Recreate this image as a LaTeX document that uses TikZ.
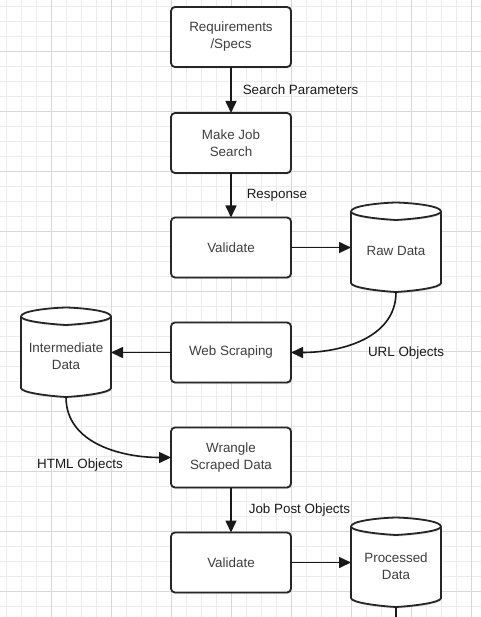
\documentclass[tikz,border=0pt]{standalone}
\usepackage{fontspec}
\setmainfont{Liberation Sans}
\usetikzlibrary{positioning,arrows.meta,shadows}

\definecolor{gridminor}{RGB}{236,236,236}
\definecolor{gridmajor}{RGB}{216,216,216}
\definecolor{boxtext}{RGB}{62,62,62}
\newcommand\chartfont{\fontsize{13.4}{17}\selectfont}

\pgfdeclarelayer{grid}
\pgfdeclarelayer{shapes}
\pgfsetlayers{grid,shapes,main}

\tikzset{
  stepbox/.style={draw=black!85, line width=1.8pt, rounded corners=4pt, fill=white,
    minimum width=120pt, minimum height=60pt, outer sep=0pt, align=center,
    text=boxtext, font=\chartfont,
    drop shadow={opacity=0.25, shadow xshift=0.5pt, shadow yshift=-1.5pt}},
  store/.style={minimum width=90pt, minimum height=89pt, outer sep=0pt, inner sep=0pt},
  storelbl/.style={align=center, text=boxtext, font=\chartfont, yshift=-3.5pt},
  dbline/.style={draw=black!85, line width=1.8pt, fill=white,
    drop shadow={opacity=0.25, shadow xshift=0.5pt, shadow yshift=-1.5pt}},
  flow/.style={draw=black!90, line width=1.6pt, -{Triangle[length=12pt,width=11pt]}},
  lbl/.style={font=\chartfont, text=black!90, inner sep=2pt},
}

% cylinder outline round a store node
\newcommand\drawdb[1]{%
  \begin{scope}[shift={(#1.center)}]
    \draw[dbline] (-45,36) .. controls (-45,41.5) and (-18,44.5) .. (0,45)
      .. controls (18,44.5) and (45,41.5) .. (45,36) -- (45,-35.5)
      .. controls (45,-40) and (18,-43.5) .. (0,-44.5)
      .. controls (-18,-43.5) and (-45,-40) .. (-45,-35.5) -- cycle;
    \draw[dbline, drop shadow={opacity=0}] (-45,36) .. controls (-45,31.5) and (-18,28.5) .. (0,27.5)
      .. controls (18,28.5) and (45,31.5) .. (45,36);
  \end{scope}}

\begin{document}
\begin{tikzpicture}[x=1pt,y=1pt]
\useasboundingbox (0,0) rectangle (480,-617);

%grid paper
\begin{pgfonlayer}{grid}
\fill[white] (0,0) rectangle (480,-617);
\draw[gridminor, line width=0.9pt, xshift=6.7pt, yshift=-6.7pt] (-15,-630) grid[step=15pt] (480,15);
\draw[gridmajor, line width=0.9pt, xshift=51.7pt, yshift=-51.7pt] (-60,-600) grid[step=60pt] (480,60);
\end{pgfonlayer}

%the process steps down the middle
\node[stepbox] (req) at (231,-37) {Requirements\\/Specs};
\node[stepbox, below=46pt of req] (search) {Make Job\\Search};
\node[stepbox, below=44.5pt of search] (check1) {Validate};
\node[stepbox, below=45pt of check1] (scrape) {Web Scraping};
\node[stepbox, below=45pt of scrape] (wrangle) {Wrangle\\Scraped Data};
\node[stepbox, below=45pt of wrangle] (check2) {Validate};

%the data stores
\node[store, right=60pt of check1, label={[storelbl]center:Raw Data}] (raw) {};
\node[store, left=60pt of scrape, label={[storelbl]center:{Intermediate\\Data}}] (inter) {};
\node[store, right=60pt of check2, label={[storelbl]center:{Processed\\Data}}] (proc) {};
\coordinate[below=20pt of proc.south] (procout);

\begin{pgfonlayer}{shapes}
\drawdb{raw}
\drawdb{inter}
\drawdb{proc}
\end{pgfonlayer}

%connectors
\draw[flow] (req) -- (search) node[lbl, midway, right=9pt] {Search Parameters};
\draw[flow] (search) -- (check1) node[lbl, midway, right=13pt] {Response};
\draw[flow] (check1) -- (raw);
\draw[flow] (raw.south) to[out=-90, in=0] (scrape.east);
\draw[flow] (scrape) -- (inter);
\draw[flow] (inter.south) to[out=-90, in=180] (wrangle.west);
\draw[flow] (wrangle) -- (check2) node[lbl, midway, right=15pt] {Job Post Objects};
\draw[flow] (check2) -- (proc);
\draw[draw=black!90, line width=1.6pt] (proc.south) -- (procout);

\node[lbl, below=53pt of raw.south, xshift=10pt] (urltxt) {URL Objects};
\node[lbl, left=46pt of wrangle.west, yshift=-8pt] (htmltxt) {HTML Objects};
\end{tikzpicture}
\end{document}
